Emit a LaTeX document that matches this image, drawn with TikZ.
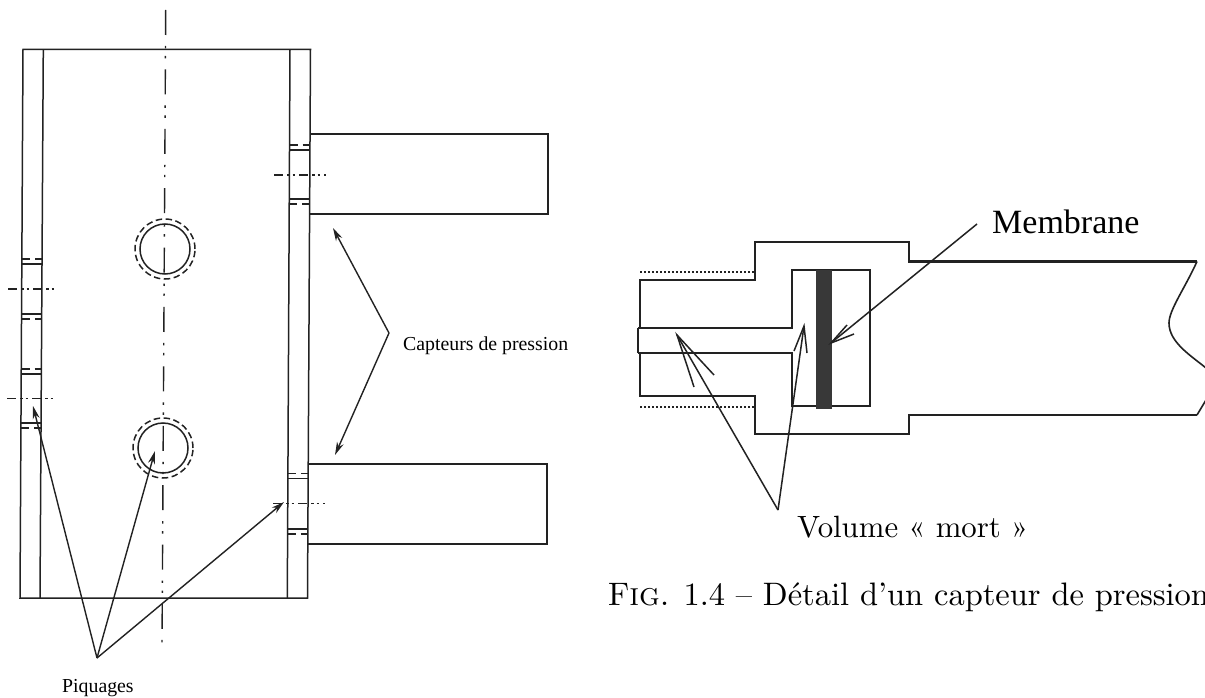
\documentclass[tikz,border=0pt]{standalone}
\usepackage{fontspec}
\usepackage{tikz}
\usetikzlibrary{arrows.meta}
\newfontfamily\timesf{Liberation Serif}
\newfontfamily\lmf[SmallCapsFont={lmromancaps10-regular.otf},Ligatures=TeX]{lmroman10-regular.otf}
\definecolor{ink}{HTML}{222222}
\tikzset{
  thinl/.style={draw=ink,line width=1.5pt},
  thickl/.style={draw=ink,line width=2.1pt,line join=miter},
  hdash/.style={draw=ink,line width=1.3pt,dash pattern=on 8pt off 5pt},
  axisl/.style={draw=ink,line width=1.4pt,dash pattern=on 25pt off 11pt on 2.4pt off 7.6pt on 2.4pt off 11pt},
  cline/.style={draw=ink,line width=1.5pt,dash pattern=on 9pt off 4pt on 2.5pt off 3pt on 2.5pt off 4pt},
  circd/.style={draw=ink,line width=1.5pt,dash pattern=on 6.5pt off 3.5pt},
  arr/.style={draw=ink,line width=1.4pt,-{Stealth[length=13pt,width=7pt,inset=4pt]}},
  lineonly/.style={draw=ink,line width=1.5pt},
  dotl/.style={draw=ink,line width=1.6pt,dash pattern=on 2pt off 2pt},
  smalltxt/.style={font=\timesf\fontsize{19.8}{22}\selectfont,inner sep=0pt,anchor=base west},
  bigtimes/.style={font=\timesf\fontsize{34}{36}\selectfont,inner sep=0pt,anchor=base west},
  voltxt/.style={font=\lmf\fontsize{30.8}{34}\selectfont,inner sep=0pt,anchor=base west},
  captxt/.style={font=\lmf\fontsize{32.5}{36}\selectfont,inner sep=0pt,anchor=base west}
}
\begin{document}
\begin{tikzpicture}[x=1pt,y=-1pt]
\clip (0,0) rectangle (1205,698);
\fill[white] (0,0) rectangle (1205,698);
% ---- plate
\draw[thinl] (23,49.5) -- (310.5,49.5) -- (307.5,598) -- (20,598) -- cycle;
\draw[thinl] (43.3,49.5) -- (40,598);
\draw[thinl] (290,49.5) -- (287.3,598);
% axis
\coordinate (axT) at (165.7,10);
\coordinate (axB) at (162,648);
\draw[axisl] (axT) -- (axB);
% sensors
\draw[thinl] (310,134) -- (548,134) -- (548,214) -- (309.7,214);
\draw[thinl] (308.2,464) -- (547,464) -- (547,544) -- (307.8,544);
% right tappings
\draw[hdash] (289.6,145) -- (309.7,145);
\draw[thinl] (289.6,150) -- (309.7,150);
\draw[thinl] (289.2,199) -- (309.4,199);
\draw[hdash] (289.2,204) -- (309.4,204);
\draw[cline] (274,175) -- (326,175);
\draw[hdash] (288,473.5) -- (308.2,473.5);
\draw[thinl] (288,478.5) -- (308.2,478.5);
\draw[thinl] (287.8,529) -- (308,529);
\draw[hdash] (287.8,534) -- (308,534);
\draw[cline] (273,503.5) -- (325,503.5);
% left tappings
\draw[hdash] (22.2,259) -- (42.3,259);
\draw[thinl] (22.2,264) -- (42.3,264);
\draw[thinl] (21.9,314) -- (42,314);
\draw[hdash] (21.9,319) -- (42,319);
\draw[cline] (8,289) -- (57,289);
\draw[hdash] (21.5,369) -- (41.5,369);
\draw[thinl] (21.5,374) -- (41.5,374);
\draw[thinl] (21.2,423) -- (41.2,423);
\draw[hdash] (21.2,428) -- (41.2,428);
\draw[cline] (7,398.5) -- (56,398.5);
% holes
\draw[thinl] (165,249) circle[radius=25pt];
\draw[circd] (165,249) circle[radius=30pt];
\draw[thinl] (163,448) circle[radius=25pt];
\draw[circd] (163,448) circle[radius=30pt];
% left labels and arrows
\node[smalltxt] (piq) at (62,692) {Piquages};
\coordinate (piqA) at (97,658);
\coordinate (piqT1) at (33,406);
\coordinate (piqT2) at (155,451);
\coordinate (piqT3) at (284,502);
\draw[arr] (piqA) -- (piqT1);
\draw[arr] (piqA) -- (piqT2);
\draw[arr] (piqA) -- (piqT3);
\node[smalltxt] (capt) at (403,350) {Capteurs de pression};
\coordinate (capA) at (389,333);
\coordinate (capT1) at (333,228);
\coordinate (capT2) at (335,455);
\draw[arr] (capA) -- (capT1);
\draw[arr] (capA) -- (capT2);
% ---- sensor detail
\draw[dotl] (640,272) -- (755,272);
\draw[dotl] (640,407) -- (755,407);
\draw[thickl] (640,328) -- (640,280) -- (755,280) -- (755,242) -- (909,242) -- (909,261.5) -- (1197,261.5);
\draw[thickl] (640,353) -- (640,396) -- (755,396) -- (755,434) -- (909,434) -- (909,415) -- (1197,415);
\draw[thinl,line width=1.6pt] (1197,261.5) .. controls (1185,288) and (1169,310) .. (1169,323) .. controls (1169,342) and (1190,355) .. (1206,368);
\draw[thinl,line width=1.6pt] (1197,415) -- (1206,400);
\draw[thinl] (638,328) -- (638,353);
\draw[thickl] (638,328) -- (792,328) -- (792,270) -- (870,270) -- (870,406) -- (792,406) -- (792,353) -- (638,353);
\fill[ink!90!white] (816,270) rectangle (832,409);
% detail labels and arrows
\node[bigtimes] (memb) at (992,233) {Membrane};
\coordinate (memA) at (977,224);
\coordinate (memT) at (831,343);
\coordinate (memB1) at (847,325);
\coordinate (memB2) at (854,334);
\draw[lineonly] (memA) -- (memT);
\draw[lineonly] (memB1) -- (memT) -- (memB2);
\node[voltxt] (vol) at (797,537) {Volume « mort »};
\coordinate (volA) at (778,510);
\coordinate (volT1) at (677,335);
\coordinate (volT2) at (804,326);
\coordinate (volB1) at (694,387);
\coordinate (volB2) at (714,375);
\coordinate (volB3) at (794,351);
\coordinate (volB4) at (807,353);
\draw[lineonly] (volA) -- (volT1);
\draw[lineonly] (volA) -- (volT2);
\draw[lineonly] (volB1) -- (volT1) -- (volB2);
\draw[lineonly] (volB3) -- (volT2) -- (volB4);
\node[captxt] (cap) at (608,605) {F\textsc{ig}. 1.4 -- Détail d’un capteur de pression};
\end{tikzpicture}
\end{document}
